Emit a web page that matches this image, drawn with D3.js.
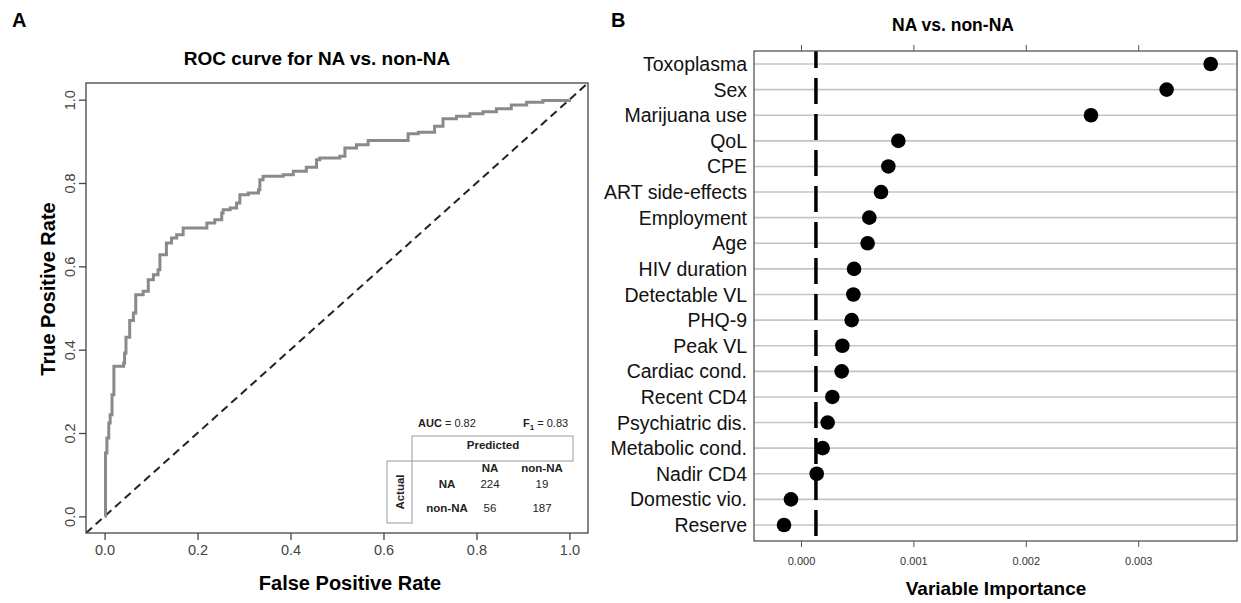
<!DOCTYPE html>
<html>
<head>
<meta charset="utf-8">
<script src="https://cdn.jsdelivr.net/npm/d3@7"></script>
<style>
  body { margin: 0; background: #fff; }
  svg { display: block; font-family: "Liberation Sans", Arial, sans-serif; }
</style>
</head>
<body>
<svg id="chart" width="1241" height="603"></svg>
<script>
// ---- panel A data: ROC curve vertices (false positive rate, true positive rate)
var rocFpr = [0, 0.002, 0.005, 0.009, 0.012, 0.016, 0.020, 0.041, 0.043, 0.046, 0.054, 0.062, 0.067,
  0.083, 0.094, 0.105, 0.115, 0.119, 0.133, 0.144, 0.155, 0.169, 0.220, 0.237, 0.252, 0.255, 0.270,
  0.284, 0.291, 0.309, 0.331, 0.334, 0.341, 0.384, 0.406, 0.434, 0.456, 0.463, 0.506, 0.517, 0.542,
  0.567, 0.653, 0.675, 0.710, 0.728, 0.757, 0.786, 0.814, 0.843, 0.875, 0.908, 0.943, 1.0];
var rocTpr = [0, 0.152, 0.188, 0.224, 0.244, 0.292, 0.360, 0.368, 0.392, 0.430, 0.470, 0.488, 0.532,
  0.540, 0.568, 0.580, 0.592, 0.628, 0.656, 0.668, 0.676, 0.692, 0.704, 0.712, 0.728, 0.736, 0.740,
  0.752, 0.772, 0.776, 0.784, 0.808, 0.816, 0.820, 0.828, 0.838, 0.856, 0.860, 0.864, 0.884, 0.892,
  0.902, 0.918, 0.922, 0.936, 0.954, 0.960, 0.966, 0.971, 0.978, 0.987, 0.994, 0.998, 1.0];
var rocTicks = [0, 0.2, 0.4, 0.6, 0.8, 1.0];
var aucValue = 0.82, f1Value = 0.83;
var matrixCols = ["NA", "non-NA"];
var matrixRows = ["NA", "non-NA"];
var matrixCounts = [[224, 19], [56, 187]];

// ---- panel B data: variable importance
var variables = ["Toxoplasma", "Sex", "Marijuana use", "QoL", "CPE", "ART side-effects", "Employment",
  "Age", "HIV duration", "Detectable VL", "PHQ-9", "Peak VL", "Cardiac cond.", "Recent CD4",
  "Psychiatric dis.", "Metabolic cond.", "Nadir CD4", "Domestic vio.", "Reserve"];
var importance = [0.003645, 0.003253, 0.00258, 0.000866, 0.000777, 0.000712, 0.000608,
  0.000593, 0.000472, 0.000466, 0.000451, 0.000368, 0.000362, 0.000279,
  0.000237, 0.000193, 0.00014, -0.000089, -0.000151];
var importanceCutoff = 0.000133;
var importanceTicks = [0, 0.001, 0.002, 0.003];

var svg = d3.select("#chart");

// ================= panel A =================
var x = d3.scaleLinear().domain([-0.04, 1.04]).range([86, 588]);
var y = d3.scaleLinear().domain([-0.04, 1.04]).range([533, 83]);

svg.append("text").attr("x", 12).attr("y", 27)
  .style("font-weight", "bold").style("font-size", "20px").text("A");

svg.append("text").attr("x", 317).attr("y", 65).attr("text-anchor", "middle")
  .style("font-weight", "bold").style("font-size", "19px").text("ROC curve for NA vs. non-NA");

svg.append("defs").append("clipPath").attr("id", "clipA")
  .append("rect").attr("x", 86).attr("y", 83).attr("width", 502).attr("height", 450);

// chance diagonal
svg.append("line")
  .attr("clip-path", "url(#clipA)")
  .attr("x1", x(-0.04)).attr("y1", y(-0.04)).attr("x2", x(1.04)).attr("y2", y(1.04))
  .attr("stroke", "#222").attr("stroke-width", 2).attr("stroke-dasharray", "8,5");

var rocLine = d3.line()
  .x(function(d, i) { return x(rocFpr[i]); })
  .y(function(d, i) { return y(rocTpr[i]); })
  .curve(d3.curveStepAfter);

svg.append("path")
  .attr("d", rocLine(rocFpr))
  .attr("fill", "none").attr("stroke", "#8a8a8a").attr("stroke-width", 3);

svg.append("rect").attr("x", 86).attr("y", 83).attr("width", 502).attr("height", 450)
  .attr("fill", "none").attr("stroke", "#444").attr("stroke-width", 1.3);

var yAxisA = svg.append("g").attr("transform", "translate(86,0)")
  .call(d3.axisLeft(y).tickValues(rocTicks).tickSize(7).tickFormat(d3.format(".1f")));
yAxisA.select(".domain").remove();
yAxisA.selectAll("line").attr("stroke", "#444").attr("stroke-width", 1.3);
yAxisA.selectAll("text")
  .attr("x", null).attr("dy", null)
  .attr("transform", "translate(-11,0) rotate(-90)")
  .attr("text-anchor", "middle")
  .style("font-size", "14.5px").style("fill", "#444").style("font-family", "Liberation Sans, Arial, sans-serif");

var xAxisA = svg.append("g").attr("transform", "translate(0,533)")
  .call(d3.axisBottom(x).tickValues(rocTicks).tickSize(7).tickFormat(d3.format(".1f")));
xAxisA.select(".domain").remove();
xAxisA.selectAll("line").attr("stroke", "#444").attr("stroke-width", 1.3);
xAxisA.selectAll("text")
  .attr("y", 22).attr("dy", null)
  .style("font-size", "14.5px").style("fill", "#444").style("font-family", "Liberation Sans, Arial, sans-serif");

svg.append("text").attr("x", 350).attr("y", 590).attr("text-anchor", "middle")
  .style("font-weight", "bold").style("font-size", "20px").text("False Positive Rate");

svg.append("text").attr("transform", "translate(55,289) rotate(-90)").attr("text-anchor", "middle")
  .style("font-weight", "bold").style("font-size", "20px").text("True Positive Rate");

// AUC / F1 and confusion matrix
var info = svg.append("g").style("font-size", "11px").style("fill", "#222");
var auc = info.append("text").attr("x", 418).attr("y", 427);
auc.append("tspan").style("font-weight", "bold").text("AUC");
auc.append("tspan").text(" = " + aucValue.toFixed(2));
var f1 = info.append("text").attr("x", 523).attr("y", 427);
f1.append("tspan").style("font-weight", "bold").text("F");
f1.append("tspan").style("font-weight", "bold").style("font-size", "8px").attr("dy", 3).text("1");
f1.append("tspan").attr("dy", -3).text(" = " + f1Value.toFixed(2));

info.append("rect").attr("x", 412).attr("y", 436).attr("width", 161).attr("height", 25)
  .attr("fill", "none").attr("stroke", "#999").attr("stroke-width", 1);
info.append("rect").attr("x", 387).attr("y", 461).attr("width", 25).attr("height", 62)
  .attr("fill", "none").attr("stroke", "#999").attr("stroke-width", 1);
info.append("text").attr("x", 493).attr("y", 449).attr("text-anchor", "middle")
  .style("font-weight", "bold").style("font-size", "11.5px").text("Predicted");
info.append("text").attr("transform", "translate(404,492) rotate(-90)").attr("text-anchor", "middle")
  .style("font-weight", "bold").style("font-size", "11.5px").text("Actual");

var colX = d3.scalePoint().domain(matrixCols).range([490, 542]);
var rowY = d3.scalePoint().domain(matrixRows).range([488, 512]);
info.selectAll(".colhead").data(matrixCols).enter().append("text")
  .attr("x", function(d) { return colX(d); }).attr("y", 472).attr("text-anchor", "middle")
  .style("font-weight", "bold").style("font-size", "11.5px").text(function(d) { return d; });
info.selectAll(".rowhead").data(matrixRows).enter().append("text")
  .attr("x", 447).attr("y", function(d) { return rowY(d); }).attr("text-anchor", "middle")
  .style("font-weight", "bold").style("font-size", "11.5px").text(function(d) { return d; });
matrixCounts.forEach(function(row, i) {
  row.forEach(function(v, j) {
    info.append("text").attr("x", colX(matrixCols[j])).attr("y", rowY(matrixRows[i]))
      .attr("text-anchor", "middle").style("font-size", "11.5px").text(v);
  });
});

// ================= panel B =================
var xb = d3.scaleLinear().domain([-0.000418, 0.003879]).range([754, 1237]);
var yb = d3.scalePoint().domain(variables).range([64, 525]);

svg.append("text").attr("x", 611).attr("y", 27)
  .style("font-weight", "bold").style("font-size", "20px").text("B");

svg.append("text").attr("x", 953).attr("y", 31).attr("text-anchor", "middle")
  .style("font-weight", "bold").style("font-size", "17.5px").text("NA vs. non-NA");

svg.selectAll(".grid").data(variables).enter().append("line")
  .attr("x1", 754).attr("x2", 1237)
  .attr("y1", function(d) { return yb(d); }).attr("y2", function(d) { return yb(d); })
  .attr("stroke", "#c4c4c4").attr("stroke-width", 1.6);

svg.append("line")
  .attr("x1", xb(importanceCutoff)).attr("x2", xb(importanceCutoff))
  .attr("y1", 51).attr("y2", 540)
  .attr("stroke", "#000").attr("stroke-width", 3.5)
  .attr("stroke-dasharray", "26,10").attr("stroke-dashoffset", 9);

svg.selectAll(".dot").data(variables).enter().append("circle")
  .attr("cx", function(d, i) { return xb(importance[i]); })
  .attr("cy", function(d) { return yb(d); })
  .attr("r", 7.3).attr("fill", "#000");

svg.selectAll(".vlabel").data(variables).enter().append("text")
  .attr("x", 747).attr("y", function(d) { return yb(d); }).attr("dy", "0.36em")
  .attr("text-anchor", "end").style("font-size", "19.5px").style("fill", "#111")
  .text(function(d) { return d; });

svg.append("rect").attr("x", 754).attr("y", 51).attr("width", 483).attr("height", 490)
  .attr("fill", "none").attr("stroke", "#555").attr("stroke-width", 1.3);

var xAxisB = svg.append("g").attr("transform", "translate(0,541)")
  .call(d3.axisBottom(xb).tickValues(importanceTicks).tickSize(6).tickFormat(d3.format(".3f")));
xAxisB.select(".domain").remove();
xAxisB.selectAll("line").attr("stroke", "#555");
xAxisB.selectAll("text").attr("y", 24).attr("dy", null)
  .style("font-size", "11px").style("fill", "#333").style("font-family", "Liberation Sans, Arial, sans-serif");

var xAxisTop = svg.append("g").attr("transform", "translate(0,51)")
  .call(d3.axisTop(xb).tickValues(importanceTicks).tickSize(6).tickFormat(""));
xAxisTop.select(".domain").remove();
xAxisTop.selectAll("line").attr("stroke", "#555");

svg.append("text").attr("x", 996).attr("y", 595).attr("text-anchor", "middle")
  .style("font-weight", "bold").style("font-size", "19px").text("Variable Importance");
</script>
</body>
</html>
